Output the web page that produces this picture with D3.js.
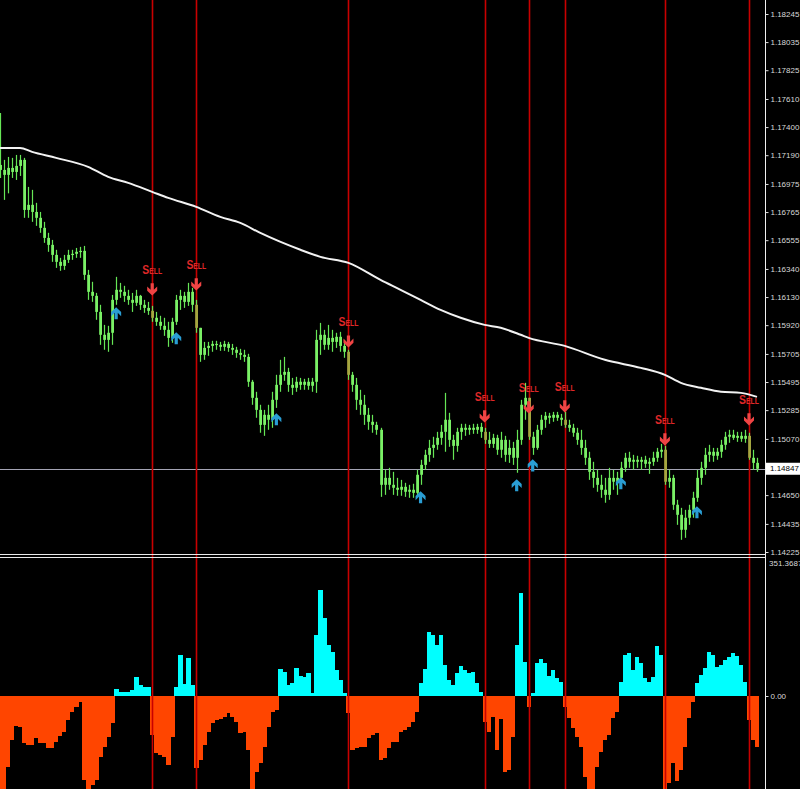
<!DOCTYPE html>
<html><head><meta charset="utf-8">
<script src="https://cdn.jsdelivr.net/npm/d3@7"></script>
<style>html,body{margin:0;padding:0;background:#000;overflow:hidden}</style>
</head><body>
<svg id="c" width="800" height="789"></svg>
<script>
const opens = [1.17117,1.17080,1.17043,1.17095,1.17065,1.17110,1.17155,1.16781,1.16819,1.16766,
1.16722,1.16647,1.16572,1.16520,1.16445,1.16393,1.16363,1.16408,1.16445,1.16453,
1.16468,1.16475,1.16296,1.16169,1.16139,1.16019,1.15848,1.15810,1.15863,1.16109,
1.16184,1.16169,1.16139,1.16109,1.16087,1.16139,1.16072,1.16049,1.16027,1.15975,
1.15945,1.15915,1.15885,1.15825,1.15945,1.16109,1.16139,1.16094,1.16169,1.16072,
1.15900,1.15698,1.15750,1.15765,1.15780,1.15773,1.15758,1.15780,1.15750,1.15736,
1.15713,1.15698,1.15683,1.15497,1.15377,1.15287,1.15175,1.15250,1.15213,1.15362,
1.15474,1.15549,1.15571,1.15474,1.15452,1.15497,1.15474,1.15497,1.15467,1.15497,
1.15810,1.15848,1.15773,1.15825,1.15795,1.15833,1.15765,1.15721,1.15549,1.15474,
1.15362,1.15325,1.15250,1.15198,1.15175,1.15138,1.14727,1.14779,1.14727,1.14705,
1.14690,1.14712,1.14675,1.14690,1.14667,1.14802,1.14876,1.14951,1.15003,1.15026,
1.15078,1.15123,1.15213,1.15063,1.15018,1.15123,1.15153,1.15138,1.15153,1.15138,
1.15160,1.15123,1.15063,1.15033,1.15078,1.14989,1.15063,1.14951,1.15003,1.14929,
1.15063,1.15325,1.15377,1.15086,1.15003,1.15138,1.15213,1.15243,1.15228,1.15250,
1.15228,1.15213,1.15175,1.15153,1.15116,1.15063,1.15003,1.14929,1.14824,1.14779,
1.14727,1.14690,1.14652,1.14779,1.14750,1.14779,1.14854,1.14929,1.14899,1.14914,
1.14899,1.14914,1.14884,1.14899,1.14929,1.14974,1.14989,1.14750,1.14779,1.14578,
1.14503,1.14391,1.14481,1.14540,1.14630,1.14779,1.14854,1.14951,1.14974,1.14944,
1.14974,1.15026,1.15086,1.15101,1.15078,1.15093,1.15071,1.15093,1.14929,1.14891];
const highs = [1.17506,1.17155,1.17177,1.17170,1.17192,1.17192,1.17170,1.16953,1.16931,1.16834,
1.16766,1.16692,1.16610,1.16557,1.16483,1.16423,1.16445,1.16483,1.16483,1.16497,
1.16505,1.16512,1.16333,1.16244,1.16161,1.16072,1.15922,1.15915,1.16146,1.16281,
1.16236,1.16214,1.16184,1.16161,1.16184,1.16146,1.16109,1.16094,1.16064,1.16019,
1.15990,1.15975,1.15945,1.15975,1.16146,1.16184,1.16169,1.16236,1.16199,1.16109,
1.15900,1.15795,1.15795,1.15803,1.15803,1.15795,1.15803,1.15795,1.15780,1.15758,
1.15743,1.15736,1.15706,1.15511,1.15422,1.15325,1.15287,1.15325,1.15422,1.15549,
1.15661,1.15683,1.15601,1.15526,1.15534,1.15526,1.15519,1.15526,1.15526,1.15885,
1.15937,1.15885,1.15922,1.15885,1.15863,1.15870,1.15810,1.15736,1.15571,1.15526,
1.15437,1.15399,1.15302,1.15250,1.15198,1.15153,1.14839,1.14854,1.14824,1.14779,
1.14764,1.14742,1.14727,1.14735,1.14839,1.14914,1.14989,1.15063,1.15086,1.15123,
1.15175,1.15414,1.15265,1.15101,1.15153,1.15183,1.15183,1.15175,1.15183,1.15183,
1.15190,1.15153,1.15123,1.15108,1.15101,1.15123,1.15093,1.15063,1.15048,1.15138,
1.15362,1.15489,1.15377,1.15123,1.15175,1.15250,1.15272,1.15265,1.15272,1.15272,
1.15257,1.15272,1.15213,1.15183,1.15153,1.15138,1.15063,1.14974,1.14899,1.14839,
1.14802,1.14779,1.14854,1.14839,1.14824,1.14899,1.14966,1.14974,1.14951,1.14944,
1.14936,1.14944,1.14929,1.14974,1.15003,1.15033,1.15018,1.14839,1.14802,1.14615,
1.14555,1.14540,1.14578,1.14675,1.14839,1.14899,1.15003,1.15026,1.15003,1.15003,
1.15063,1.15123,1.15138,1.15138,1.15123,1.15123,1.15138,1.15116,1.14989,1.14929];
const lows = [1.17020,1.16856,1.16905,1.17020,1.17005,1.17035,1.16722,1.16722,1.16692,1.16662,
1.16610,1.16535,1.16468,1.16393,1.16348,1.16326,1.16333,1.16385,1.16408,1.16423,
1.16423,1.16258,1.16109,1.16094,1.15960,1.15773,1.15736,1.15721,1.15773,1.16072,
1.16124,1.16094,1.16072,1.16019,1.16064,1.16034,1.16012,1.15997,1.15945,1.15915,
1.15885,1.15840,1.15758,1.15788,1.15922,1.16034,1.16049,1.16064,1.16019,1.15863,
1.15646,1.15661,1.15691,1.15721,1.15736,1.15728,1.15728,1.15721,1.15698,1.15676,
1.15661,1.15646,1.15459,1.15325,1.15228,1.15116,1.15093,1.15138,1.15153,1.15302,
1.15422,1.15504,1.15422,1.15399,1.15422,1.15437,1.15437,1.15437,1.15422,1.15414,
1.15698,1.15736,1.15736,1.15721,1.15750,1.15721,1.15676,1.15511,1.15422,1.15287,
1.15250,1.15175,1.15138,1.15116,1.15101,1.14637,1.14652,1.14690,1.14652,1.14645,
1.14645,1.14637,1.14630,1.14630,1.14645,1.14727,1.14839,1.14899,1.14929,1.14989,
1.15026,1.14974,1.15011,1.14914,1.14974,1.15063,1.15093,1.15101,1.15108,1.15108,
1.15078,1.15033,1.15003,1.15003,1.14951,1.14929,1.14899,1.14891,1.14876,1.14817,
1.15026,1.15213,1.15063,1.14951,1.14989,1.15101,1.15153,1.15183,1.15198,1.15205,
1.15168,1.15153,1.15123,1.15086,1.15026,1.14951,1.14876,1.14764,1.14705,1.14675,
1.14630,1.14593,1.14615,1.14690,1.14652,1.14727,1.14824,1.14854,1.14839,1.14854,
1.14839,1.14854,1.14809,1.14869,1.14899,1.14929,1.14727,1.14705,1.14540,1.14428,
1.14316,1.14331,1.14428,1.14481,1.14600,1.14727,1.14802,1.14899,1.14899,1.14914,
1.14929,1.14989,1.15041,1.15063,1.15048,1.15048,1.15041,1.14914,1.14839,1.14824];
const closes = [1.17080,1.17043,1.17095,1.17065,1.17110,1.17155,1.16781,1.16819,1.16766,1.16722,
1.16647,1.16572,1.16520,1.16445,1.16393,1.16363,1.16408,1.16445,1.16453,1.16468,
1.16475,1.16296,1.16169,1.16139,1.16019,1.15848,1.15810,1.15863,1.16109,1.16184,
1.16169,1.16139,1.16109,1.16087,1.16139,1.16072,1.16049,1.16027,1.15975,1.15945,
1.15915,1.15885,1.15825,1.15945,1.16109,1.16139,1.16094,1.16169,1.16072,1.15900,
1.15698,1.15750,1.15765,1.15780,1.15773,1.15758,1.15780,1.15750,1.15736,1.15713,
1.15698,1.15683,1.15497,1.15377,1.15287,1.15175,1.15250,1.15213,1.15362,1.15474,
1.15549,1.15571,1.15474,1.15452,1.15497,1.15474,1.15497,1.15467,1.15497,1.15810,
1.15848,1.15773,1.15825,1.15795,1.15833,1.15765,1.15721,1.15549,1.15474,1.15362,
1.15325,1.15250,1.15198,1.15175,1.15138,1.14727,1.14779,1.14727,1.14705,1.14690,
1.14712,1.14675,1.14690,1.14667,1.14802,1.14876,1.14951,1.15003,1.15026,1.15078,
1.15123,1.15213,1.15063,1.15018,1.15123,1.15153,1.15138,1.15153,1.15138,1.15160,
1.15123,1.15063,1.15033,1.15078,1.14989,1.15063,1.14951,1.15003,1.14929,1.15063,
1.15325,1.15377,1.15086,1.15003,1.15138,1.15213,1.15243,1.15228,1.15250,1.15228,
1.15213,1.15175,1.15153,1.15116,1.15063,1.15003,1.14929,1.14824,1.14779,1.14727,
1.14690,1.14652,1.14779,1.14750,1.14779,1.14854,1.14929,1.14899,1.14914,1.14899,
1.14914,1.14884,1.14899,1.14929,1.14974,1.14989,1.14750,1.14779,1.14578,1.14503,
1.14391,1.14481,1.14540,1.14630,1.14779,1.14854,1.14951,1.14974,1.14944,1.14974,
1.15026,1.15086,1.15101,1.15078,1.15093,1.15071,1.15093,1.14929,1.14891,1.14847];
const histValues = [-250,-250,-180,-111,-75,-78,-119,-124,-125,-106,
-119,-119,-131,-131,-116,-100,-91,-61,-40,-28,
-15,-212,-250,-225,-212,-154,-129,-104,-68,18,
10,10,10,15,48,28,23,23,-99,-144,
-150,-154,-174,-104,23,104,30,96,28,-182,
-162,-124,-91,-68,-61,-58,-53,-43,-53,-66,
-94,-91,-137,-250,-192,-169,-129,-78,-40,-35,
68,61,28,33,71,50,48,58,8,154,
268,197,129,110,66,40,8,-43,-137,-131,
-129,-129,-106,-99,-94,-162,-157,-131,-116,-116,
-91,-85,-78,-66,-40,33,68,162,154,129,
154,78,40,28,58,76,66,58,61,33,
10,-66,-91,-53,-137,-58,-192,-187,-104,129,
260,86,-28,8,83,94,83,51,66,46,
35,-28,-56,-81,-104,-129,-205,-250,-250,-180,
-142,-111,-99,-56,-40,35,104,109,66,99,
83,46,35,48,126,104,-250,-220,-169,-215,
-187,-129,-56,-15,33,53,71,111,104,73,
78,91,99,109,101,78,35,-61,-111,-129];
const maBars = [0,5,8,14,22,27,32,38,42,49,55,60,65,75,80,87,95,100,105,110,115,121,125,130,132,141,151,160,166,170,175,180,185,189];
const maValues = [1.17244,1.17244,1.17215,1.17170,1.17103,1.17028,1.16983,1.16916,1.16871,1.16804,1.16729,1.16684,1.16609,1.16483,1.16430,1.16385,1.16258,1.16184,1.16109,1.16034,1.15975,1.15922,1.15900,1.15848,1.15825,1.15765,1.15661,1.15601,1.15549,1.15489,1.15452,1.15422,1.15414,1.15384];
const sellBars = [38,49,87,121,132,141,166,187];
const sellArrowPrices = [1.16184,1.16221,1.15795,1.15235,1.15302,1.15310,1.15063,1.15213];
const buyBars = [29,44,69,105,129,133,155,174];
const buyArrowPrices = [1.16012,1.15825,1.15220,1.14637,1.14727,1.14876,1.14742,1.14525];
const priceTicks = [1.18245,1.18035,1.17825,1.17610,1.17400,1.17190,1.16975,1.16765,1.16555,1.16340,1.16130,1.15920,1.15705,1.15495,1.15285,1.15070,1.14650,1.14435,1.14225];
const currentPrice = 1.14847;
const histMax = 351.3687;

const W = 800, H = 789, axisX = 765;
const svg = d3.select('#c');
svg.append('rect').attr('width', W).attr('height', H).attr('fill', '#000');
const N = closes.length;
const x = d3.scaleLinear().domain([0, N - 1]).range([0, 757]);
const step = x(1) - x(0);
const y = d3.scaleLinear().domain([1.14225, 1.18245]).range([552, 14]);
const yh = d3.scaleLinear().domain([0, histMax]).range([696, 557]);

const defs = svg.append('defs');
defs.append('clipPath').attr('id', 'cm').append('rect').attr('x', 0).attr('y', 0).attr('width', axisX).attr('height', 554);
defs.append('clipPath').attr('id', 'cs').append('rect').attr('x', 0).attr('y', 558).attr('width', axisX).attr('height', H - 558);

// histogram
const gh = svg.append('g').attr('clip-path', 'url(#cs)').attr('shape-rendering', 'crispEdges');
gh.selectAll('rect').data(histValues).join('rect')
  .attr('x', (d, i) => x(i) - step / 2)
  .attr('width', step + 0.4)
  .attr('y', d => d >= 0 ? yh(d) : yh(0))
  .attr('height', d => Math.abs(yh(d) - yh(0)))
  .attr('fill', d => d >= 0 ? '#00ffff' : '#ff4500');

// current price line
svg.append('line').attr('x1', 0).attr('x2', axisX).attr('y1', Math.round(y(currentPrice)) + 0.5).attr('y2', Math.round(y(currentPrice)) + 0.5)
  .attr('stroke', '#a4a4b4').attr('stroke-width', 1);

// red signal lines
svg.append('g').selectAll('line').data(sellBars).join('line')
  .attr('x1', b => Math.round(x(b)) + 0.5).attr('x2', b => Math.round(x(b)) + 0.5)
  .attr('y1', 0).attr('y2', H)
  .attr('stroke', '#c80000').attr('stroke-width', 1.6);

// main pane
const gm = svg.append('g').attr('clip-path', 'url(#cm)');
const idx = d3.range(N);
const sellSet = new Set(sellBars);
const candle = gm.append('g');
candle.selectAll('line').data(idx).join('line')
  .attr('x1', i => Math.round(x(i)) + 0.5).attr('x2', i => Math.round(x(i)) + 0.5)
  .attr('y1', i => y(highs[i])).attr('y2', i => y(lows[i]))
  .attr('stroke', '#66e656').attr('stroke-width', 1.2);
candle.selectAll('rect').data(idx).join('rect')
  .attr('x', i => Math.round(x(i)) - 0.8).attr('width', 2.8)
  .attr('y', i => Math.min(y(opens[i]), y(closes[i])))
  .attr('height', i => Math.max(1.2, Math.abs(y(opens[i]) - y(closes[i]))))
  .attr('fill', i => sellSet.has(i) ? '#a4a640' : '#7af066');

// moving average
const maData = maBars.map((b, k) => ({ i: b, v: maValues[k] }));
gm.append('path').datum(maData)
  .attr('d', d3.line().x(d => x(d.i)).y(d => y(d.v)).curve(d3.curveMonotoneX))
  .attr('fill', 'none').attr('stroke', '#f2f2f2').attr('stroke-width', 2);

// arrows
const downArrow = 'M-1.6,-6.5H1.6V0L5,-3.3V0.8L0,5.6L-5,0.8V-3.3L-1.6,0Z';
const ga = gm.append('g');
ga.selectAll('path.s').data(sellBars).join('path').attr('class', 's')
  .attr('d', downArrow)
  .attr('transform', (b, k) => `translate(${x(b)},${y(sellArrowPrices[k])})`)
  .attr('fill', '#f04444');
ga.selectAll('path.b').data(buyBars).join('path').attr('class', 'b')
  .attr('d', downArrow)
  .attr('transform', (b, k) => `translate(${x(b)},${y(buyArrowPrices[k])}) scale(1,-1)`)
  .attr('fill', '#2a9ed4');
const st = ga.selectAll('text').data(sellBars).join('text')
  .attr('transform', (b, k) => `translate(${x(b)},${y(sellArrowPrices[k]) - 16}) scale(0.8,1)`)
  .attr('text-anchor', 'middle')
  .attr('font-family', 'Liberation Sans, Arial, sans-serif').attr('font-weight', 'bold')
  .attr('fill', '#e02828');
st.append('tspan').attr('font-size', 13).text('S');
st.append('tspan').attr('font-size', 8.5).text('ELL');

// pane separators
svg.append('line').attr('x1', 0).attr('x2', axisX).attr('y1', 554.5).attr('y2', 554.5).attr('stroke', '#e8e8e8');
svg.append('line').attr('x1', 0).attr('x2', axisX).attr('y1', 557.5).attr('y2', 557.5).attr('stroke', '#e8e8e8');

// axes
svg.append('line').attr('x1', axisX + 0.5).attr('x2', axisX + 0.5).attr('y1', 0).attr('y2', H).attr('stroke', '#f0f0f0');
const ax = svg.append('g').attr('transform', `translate(${axisX + 0.5},0)`)
  .call(d3.axisRight(y).tickValues(priceTicks).tickSize(3).tickSizeOuter(0).tickPadding(2).tickFormat(d3.format('.5f')));
const ax2 = svg.append('g').attr('transform', `translate(${axisX + 0.5},0)`)
  .call(d3.axisRight(yh).tickValues([0]).tickSize(3).tickSizeOuter(0).tickPadding(2).tickFormat(d3.format('.2f')));
[ax, ax2].forEach(a => {
  a.select('.domain').remove();
  a.selectAll('line').attr('stroke', '#e0e0e0');
  a.selectAll('text').attr('fill', '#d8d8d8').attr('font-size', 8).attr('font-family', 'Liberation Sans, Arial, sans-serif');
});
svg.append('text').attr('x', axisX + 4).attr('y', 563).attr('dy', '0.32em').text(d3.format('.4f')(histMax))
  .attr('fill', '#d8d8d8').attr('font-size', 8).attr('font-family', 'Liberation Sans, Arial, sans-serif');

// current price label
const cy = y(currentPrice);
svg.append('rect').attr('x', axisX + 1).attr('y', cy - 6).attr('width', 34).attr('height', 12).attr('fill', '#ffffff');
svg.append('text').attr('x', axisX + 5).attr('y', cy).attr('dy', '0.34em').text(d3.format('.5f')(currentPrice))
  .attr('fill', '#000').attr('font-size', 8).attr('font-family', 'Liberation Sans, Arial, sans-serif');
</script>
</body></html>
